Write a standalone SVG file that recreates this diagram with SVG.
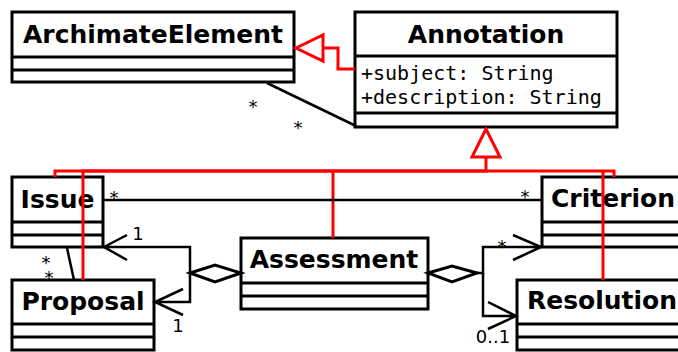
<svg xmlns="http://www.w3.org/2000/svg" width="678" height="352" viewBox="0 0 678 352">
  <style>
    .box { fill: #fff; stroke: #000; stroke-width: 3; }
    .sep { stroke: #000; stroke-width: 3; }
    .name { font-family: "DejaVu Sans", sans-serif; font-weight: bold; font-size: 25px; text-anchor: middle; fill: #000; }
    .attr { font-family: "DejaVu Sans Mono", monospace; font-size: 20px; fill: #000; }
    .lbl { font-family: "DejaVu Sans", sans-serif; font-size: 18px; text-anchor: middle; fill: #000; }
    .assoc { fill: none; stroke: #000; stroke-width: 2.5; }
    .gen { fill: none; stroke: #f00; stroke-width: 3; }
    .genhead { fill: #fff; stroke: #f00; stroke-width: 3; }
    .agg { fill: #fff; stroke: #000; stroke-width: 3; }
  </style>

  <!-- classes -->
  <g id="archimate-element">
    <rect class="box" x="12" y="12" width="282" height="70"/>
    <line class="sep" x1="12" y1="57" x2="294" y2="57"/>
    <line class="sep" x1="12" y1="70" x2="294" y2="70"/>
    <text class="name" x="153" y="43">ArchimateElement</text>
  </g>

  <g id="annotation">
    <rect class="box" x="355" y="12" width="262" height="115"/>
    <line class="sep" x1="355" y1="56" x2="617" y2="56"/>
    <line class="sep" x1="355" y1="113" x2="617" y2="113"/>
    <text class="name" x="486" y="43">Annotation</text>
    <text class="attr" x="361" y="80">+subject: String</text>
    <text class="attr" x="361" y="104">+description: String</text>
  </g>

  <g id="issue">
    <rect class="box" x="12" y="177" width="91" height="70"/>
    <line class="sep" x1="12" y1="222" x2="103" y2="222"/>
    <line class="sep" x1="12" y1="235" x2="103" y2="235"/>
    <text class="name" x="57.5" y="208">Issue</text>
  </g>

  <g id="proposal">
    <rect class="box" x="12" y="280" width="142" height="70"/>
    <line class="sep" x1="12" y1="324" x2="154" y2="324"/>
    <line class="sep" x1="12" y1="337" x2="154" y2="337"/>
    <text class="name" x="83" y="310">Proposal</text>
  </g>

  <g id="assessment">
    <rect class="box" x="241" y="238" width="187" height="71"/>
    <line class="sep" x1="241" y1="283" x2="428" y2="283"/>
    <line class="sep" x1="241" y1="296" x2="428" y2="296"/>
    <text class="name" x="334" y="268">Assessment</text>
  </g>

  <g id="criterion">
    <rect class="box" x="542" y="177" width="142" height="70"/>
    <line class="sep" x1="542" y1="222" x2="684" y2="222"/>
    <line class="sep" x1="542" y1="235" x2="684" y2="235"/>
    <text class="name" x="613" y="207">Criterion</text>
  </g>

  <g id="resolution">
    <rect class="box" x="517" y="280" width="168" height="70"/>
    <line class="sep" x1="517" y1="324" x2="685" y2="324"/>
    <line class="sep" x1="517" y1="337" x2="685" y2="337"/>
    <text class="name" x="602" y="309">Resolution</text>
  </g>

  <!-- relationships -->
  <g id="connectors">
    <!-- generalizations -->
    <path class="gen" d="M355,69 H338 V48 H323"/>
    <polygon class="genhead" points="296,48 323,35 323,61"/>

    <path class="gen" d="M486,157 V171 H55 V177"/>
    <path class="gen" d="M486,171 H83 V280"/>
    <path class="gen" d="M333,171 V238"/>
    <path class="gen" d="M486,171 H614 V177"/>
    <path class="gen" d="M603,171 V280"/>
    <polygon class="genhead" points="486,129 472,157 500,157"/>

    <!-- associations -->
    <path class="assoc" d="M267,83 L356,126"/>
    <text class="lbl" x="253" y="113">*</text>
    <text class="lbl" x="298" y="134">*</text>

    <path class="assoc" d="M103,200 H542"/>
    <text class="lbl" x="114" y="204">*</text>
    <text class="lbl" x="525" y="203">*</text>

    <path class="assoc" d="M67,248 L74,280"/>
    <text class="lbl" x="46" y="269">*</text>
    <text class="lbl" x="49" y="284">*</text>

    <!-- aggregations from Assessment -->
    <path class="assoc" d="M190,273 V247 H104 M127,235 L104,247 L127,260"/>
    <path class="assoc" d="M190,273 V302 H155 M183,289 L155,302 L183,315"/>
    <polygon class="agg" points="190,273 215,265 241,273 215,282"/>
    <text class="lbl" x="138" y="240">1</text>
    <text class="lbl" x="178" y="332">1</text>

    <path class="assoc" d="M477,273 H483 V247 H541 M513,235 L541,247 L513,260"/>
    <path class="assoc" d="M483,273 V316 H516 M488,302 L516,316 L488,329"/>
    <polygon class="agg" points="428,273 452,266 477,273 452,282"/>
    <text class="lbl" x="502" y="253">*</text>
    <text class="lbl" x="493" y="343">0..1</text>
  </g>
</svg>
